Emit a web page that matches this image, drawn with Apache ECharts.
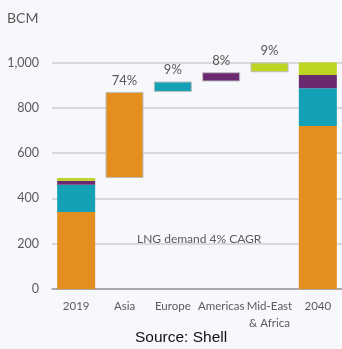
<!DOCTYPE html>
<html>
<head>
<meta charset="utf-8">
<script src="https://cdn.jsdelivr.net/npm/echarts@6/dist/echarts.min.js"></script>
<style>
  html, body { margin: 0; padding: 0; background: #f7f8fb; }
  #chart { width: 342px; height: 349px; }
</style>
</head>
<body>
<div id="chart"></div>
<script>
// LNG demand growth 2019 -> 2040 by region (BCM)
const categories = ['2019', 'Asia', 'Europe', 'Americas', 'Mid-East\n& Africa', '2040'];
// invisible offset that lifts each floating step
const baseValues   = [0, 490, 870, 916, 957, 0];
const asiaValues   = [340, 380, null, null, null, 720];
const europeValues = [120, null, 46, null, null, 166];
const americasValues = [18, null, null, 41, null, 59];
const meafValues   = [12, null, null, null, 43, 55];
// share of total growth per region
const shareLabels  = ['', '74%', '9%', '8%', '9%', ''];
const yTicks = [0, 200, 400, 600, 800, 1000];

const textFont = 'Lato';
const textColor = '#5a5a5a';

function regionSeries(name, values, color, labelIndex) {
  return {
    name: name,
    type: 'bar',
    stack: 'total',
    barWidth: 38,
    data: values.map((v, i) => {
      const item = { value: v };
      if (i === labelIndex) {
        // floating step: outlined bar with its share of growth above
        item.itemStyle = { borderColor: '#bdbdbd', borderWidth: 1 };
        item.label = {
          show: true,
          position: 'top',
          distance: 5,
          formatter: shareLabels[i],
          color: textColor,
          fontFamily: textFont,
          fontSize: 13
        };
      }
      return item;
    }),
    itemStyle: { color: color },
    emphasis: { disabled: true }
  };
}

const chart = echarts.init(document.getElementById('chart'), null, { renderer: 'canvas' });
chart.setOption({
  backgroundColor: '#f7f8fb',
  animation: false,
  grid: { left: 52, right: 0, top: 62.5, bottom: 60, containLabel: false },
  xAxis: {
    type: 'category',
    data: categories,
    axisTick: { show: false },
    axisLine: { lineStyle: { color: '#9a9a9a', width: 1.5 } },
    axisLabel: {
      color: textColor,
      fontFamily: textFont,
      fontSize: 11.5,
      margin: 9,
      lineHeight: 17,
      interval: 0
    }
  },
  yAxis: {
    type: 'value',
    min: yTicks[0],
    max: yTicks[yTicks.length - 1],
    interval: 200,
    axisLine: { show: false },
    axisTick: { show: false },
    splitLine: { lineStyle: { color: '#cfcfcf', width: 1.5 } },
    axisLabel: {
      color: textColor,
      fontFamily: textFont,
      fontSize: 12.5,
      margin: 13,
      formatter: v => v.toLocaleString('en-US')
    }
  },
  graphic: [
    {
      type: 'text', left: 7, top: 11,
      style: { text: 'BCM', fill: textColor, font: '14px Lato' }
    },
    {
      type: 'text', left: 137, top: 233,
      style: { text: 'LNG demand 4% CAGR', fill: textColor, font: '12px Lato' }
    },
    {
      type: 'text', left: 135, top: 330,
      style: { text: 'Source: Shell', fill: '#111', font: '15.5px "Liberation Sans", Arial, sans-serif' }
    }
  ],
  series: [
    {
      name: 'base', type: 'bar', stack: 'total', barWidth: 38,
      data: baseValues,
      itemStyle: { color: 'transparent' },
      emphasis: { disabled: true }
    },
    regionSeries('Asia', asiaValues, '#e48e1f', 1),
    regionSeries('Europe', europeValues, '#14a1b6', 2),
    regionSeries('Americas', americasValues, '#6b2a70', 3),
    regionSeries('Middle East & Africa', meafValues, '#bed422', 4)
  ]
});
</script>
</body>
</html>
